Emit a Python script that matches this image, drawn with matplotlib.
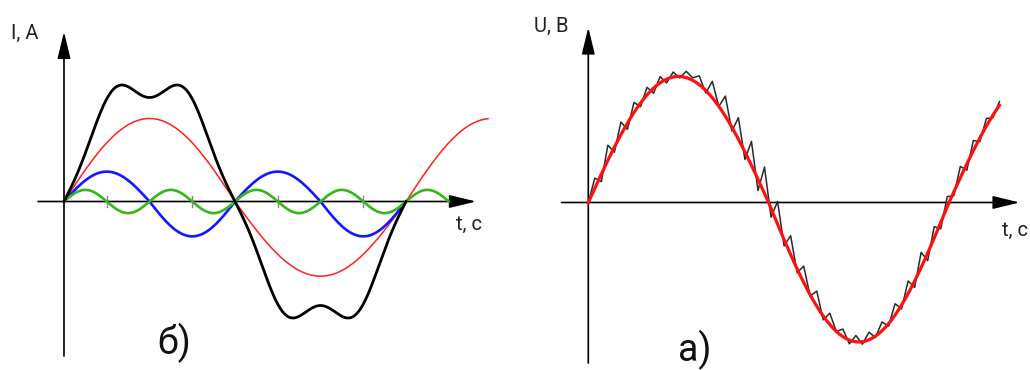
import numpy as np
import matplotlib
matplotlib.use("Agg")
import matplotlib.pyplot as plt

plt.rcParams['font.family'] = ['Roboto', 'DejaVu Sans']

# --- б) гармоники тока ---
# амплитуды (положительная / отрицательная полуволна), кратность гармоники, длина по t
red_amp = (1.0, 0.90)
blue_amp = (0.36, 0.42)
green_amp = 0.14
harmonic_order = {'red': 1, 'blue': 2, 'green': 4}
t_end = {'red': 1.24, 'blue': 1.0, 'green': 1.125, 'black': 1.0}
# результирующая кривая: коэффициенты при sin(θ), sin(3θ), sin(5θ)
black_coef = [1.501, 0.129, -0.119]
tick_t = [0.125, 0.375, 0.625, 0.875]

# --- а) напряжение с помехой ---
u_amp = (1.0, 1.107)
u_end = 1.14
# отклонения зашумлённой кривой от синусоиды в узлах по t
u_noise = [0.00, 0.08, -0.06, 0.12, -0.04, 0.10, -0.05, 0.08,
           -0.03, 0.06, -0.04, 0.05, -0.03, 0.04, -0.01, 0.05,
           0.02, 0.07, -0.02, 0.13, 0.00, 0.16, -0.03, 0.17,
           -0.06, 0.19, -0.09, 0.21, -0.07, 0.18, -0.05, 0.15,
           -0.03, 0.13, -0.01, 0.12, -0.03, 0.09, 0.00, 0.06,
           -0.03, 0.05, -0.02, 0.06, -0.01, 0.07, -0.02, 0.09,
           -0.03, 0.10, -0.05, 0.12, -0.06, 0.09, -0.05, 0.08,
           -0.03, 0.09, -0.05, 0.08, -0.03, 0.06, -0.02, 0.03]


def wave(t, order, amp):
    s = np.sin(2 * np.pi * order * t)
    if np.ndim(amp) == 0:
        return amp * s
    return np.where(s > 0, amp[0] * s, amp[1] * s)


def axis_arrow(ax, start, tip):
    ax.annotate('', xy=tip, xytext=start,
                arrowprops=dict(arrowstyle='-|>,head_length=1.65,head_width=0.4',
                                mutation_scale=10, lw=1.2, color='black',
                                shrinkA=0, shrinkB=0))


fig = plt.figure(figsize=(10.3, 3.7), dpi=100)

# левая панель
ax1 = fig.add_axes([0, 0, 0.5, 1])
ax1.set_xlim(-0.1871, 1.3187)
ax1.set_ylim(-2.0301, 2.4277)
ax1.axis('off')

axis_arrow(ax1, (0, -1.861), (0, 2.045))
axis_arrow(ax1, (-0.076, 0), (1.205, 0))
for tt in tick_t:
    ax1.plot([tt, tt], [-0.065, 0.065], color='#888888', lw=1.0, zorder=2)

t = np.linspace(0, t_end['red'], 800)
ax1.plot(t, wave(t, harmonic_order['red'], red_amp), color='#ff2020', lw=1.1, zorder=3)
t = np.linspace(0, t_end['blue'], 800)
ax1.plot(t, wave(t, harmonic_order['blue'], blue_amp), color='#1515ff', lw=1.9, zorder=4)
t = np.linspace(0, t_end['green'], 800)
ax1.plot(t, wave(t, harmonic_order['green'], green_amp), color='#33b818', lw=1.9, zorder=5)
t = np.linspace(0, t_end['black'], 800)
black = sum(c * np.sin(2 * np.pi * k * t) for c, k in zip(black_coef, [1, 3, 5]))
ax1.plot(t, black, color='black', lw=2.0, zorder=6)

ax1.text(-0.114, 2.03, 'I, А', fontsize=14.5, ha='center', va='center', color='#222222')
ax1.text(1.184, -0.271, 't, с', fontsize=14.5, ha='center', va='center', color='#222222')
ax1.text(0.322, -1.705, 'б)', fontsize=27, ha='center', va='center', color='#111111')

# правая панель
ax2 = fig.add_axes([0.5, 0, 0.5, 1])
ax2.set_xlim(-0.2032, 1.2246)
ax2.set_ylim(-1.3294, 1.6071)
ax2.axis('off')

axis_arrow(ax2, (0, -1.274), (0, 1.39))
axis_arrow(ax2, (-0.074, 0), (1.196, 0))

t = np.linspace(0, u_end, 800)
ax2.plot(t, wave(t, 1, u_amp), color='#ff1010', lw=2.3, zorder=4)
t_knots = np.linspace(0, u_end, len(u_noise))
ax2.plot(t_knots, wave(t_knots, 1, u_amp) + np.array(u_noise),
         color='#2a2a2a', lw=1.1, zorder=3)

ax2.text(-0.103, 1.401, 'U, В', fontsize=14.5, ha='center', va='center', color='#222222')
ax2.text(1.183, -0.218, 't, с', fontsize=14.5, ha='center', va='center', color='#222222')
ax2.text(0.295, -1.17, 'а)', fontsize=27, ha='center', va='center', color='#111111')

fig.savefig('out.png', dpi=100)
